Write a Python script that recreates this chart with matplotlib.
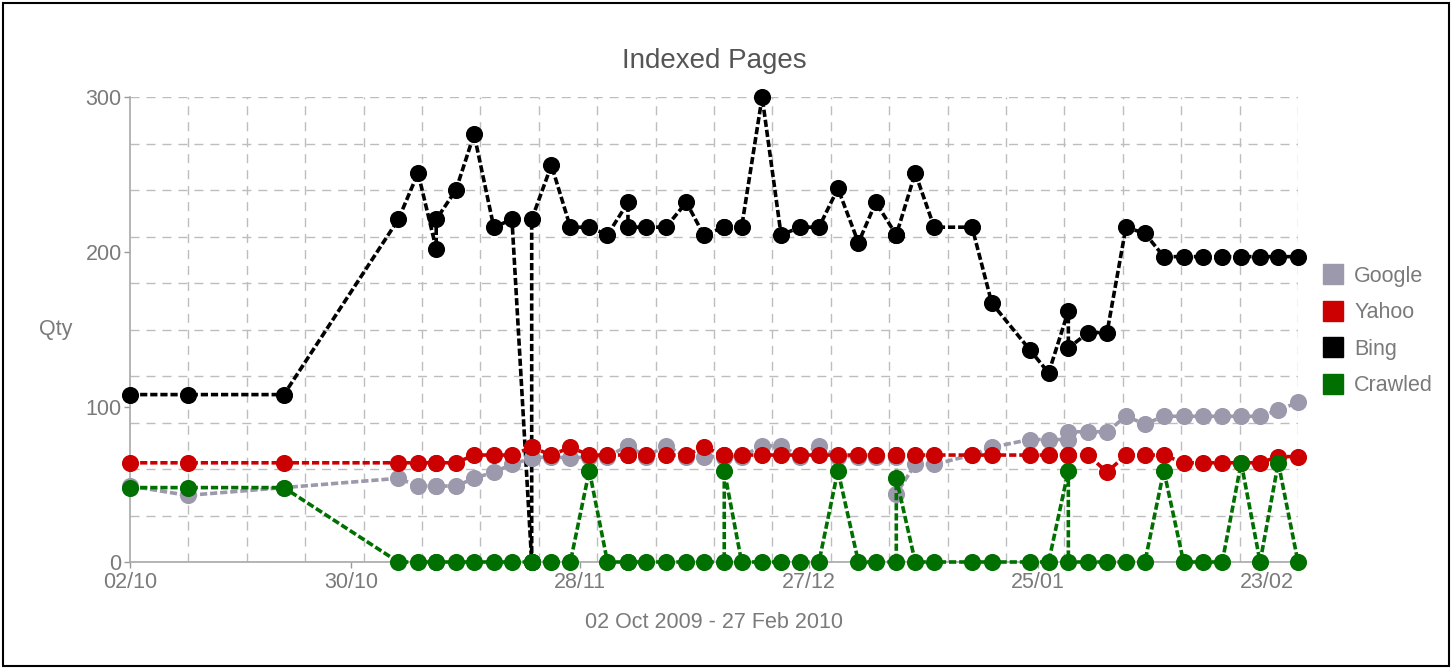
import matplotlib
matplotlib.use('Agg')
import matplotlib.pyplot as plt
from matplotlib.lines import Line2D
from matplotlib.patches import Rectangle
from matplotlib.ticker import FixedLocator, MultipleLocator

plt.rcParams['font.family'] = ['Liberation Sans', 'DejaVu Sans']

# x = days since 02 Oct 2009 (duplicates = two readings on the same date)
days = [0.0, 7.3, 19.5, 34.0, 36.5, 38.8, 38.8, 41.3, 43.6, 46.1,
        48.4, 50.9, 50.9, 53.4, 55.8, 58.2, 60.5, 63.1, 63.1, 65.4,
        67.9, 70.5, 72.7, 75.3, 75.3, 77.5, 80.1, 82.5, 84.9, 87.3,
        89.7, 92.3, 94.5, 97.1, 97.1, 99.5, 101.9, 106.7, 109.2, 114.0,
        116.4, 118.9, 118.9, 121.4, 123.8, 126.2, 128.6, 131.0, 133.5, 135.9,
        138.4, 140.8, 143.2, 145.5, 148.0]

google = [49, 43, 48, 54, 49, 49, 49, 49, 54, 58,
          63, 67, 67, 68, 67, 68, 68, 75, 75, 68,
          75, 68, 68, 68, 68, 68, 75, 75, 68, 75,
          68, 68, 68, 68, 44, 63, 63, 69, 74, 79,
          79, 79, 84, 84, 84, 94, 89, 94, 94, 94,
          94, 94, 94, 98, 103]

yahoo = [64, 64, 64, 64, 64, 64, 64, 64, 69, 69,
         69, 74, 74, 69, 74, 69, 69, 69, 69, 69,
         69, 69, 74, 69, 69, 69, 69, 69, 69, 69,
         69, 69, 69, 69, 69, 69, 69, 69, 69, 69,
         69, 69, 69, 69, 58, 69, 69, 69, 64, 64,
         64, 64, 64, 68, 68]

bing = [108, 108, 108, 221, 251, 202, 221, 240, 276, 216,
        221, 0, 221, 256, 216, 216, 211, 232, 216, 216,
        216, 232, 211, 216, 216, 216, 300, 211, 216, 216,
        241, 206, 232, 211, 211, 251, 216, 216, 167, 137,
        122, 162, 138, 148, 148, 216, 212, 197, 197, 197,
        197, 197, 197, 197, 197]

crawled = [48, 48, 48, 0, 0, 0, 0, 0, 0, 0,
           0, 0, 0, 0, 0, 59, 0, 0, 0, 0,
           0, 0, 0, 0, 59, 0, 0, 0, 0, 0,
           59, 0, 0, 0, 54, 0, 0, 0, 0, 0,
           0, 59, 0, 0, 0, 0, 0, 59, 0, 0,
           0, 64, 0, 64, 0]

x_ticks = [0, 28, 57, 86, 115, 144]
x_labels = ['02/10', '30/10', '28/11', '27/12', '25/01', '23/02']
y_ticks = [0, 100, 200, 300]

series_names = ['Google', 'Yahoo', 'Bing', 'Crawled']
series_colors = ['#9b99ab', '#cc0000', '#000000', '#007000']

W, H = 1455, 669
fig = plt.figure(figsize=(W / 100, H / 100), dpi=100)
ax = fig.add_axes([130 / W, 1 - 562 / H, 1168 / W, 465 / H])

data = {'Google': google, 'Yahoo': yahoo, 'Bing': bing, 'Crawled': crawled}
zorders = {'Bing': 3, 'Google': 4, 'Yahoo': 5, 'Crawled': 6}
for name in ['Bing', 'Google', 'Yahoo', 'Crawled']:
    c = series_colors[series_names.index(name)]
    ax.plot(days, data[name], color=c, lw=2.6, ls=(0, (2.0, 0.8)),
            marker='o', ms=11.3, mfc=c, mec=c, clip_on=False,
            zorder=zorders[name])

ax.set_xlim(0, 148)
ax.set_ylim(0, 300)
ax.set_xticks(x_ticks)
ax.set_xticklabels(x_labels)
ax.set_yticks(y_ticks)

ax.xaxis.set_minor_locator(FixedLocator([148 / 20 * k for k in range(1, 21)]))
ax.yaxis.set_minor_locator(MultipleLocator(30))
ax.xaxis.remove_overlapping_locs = False
ax.yaxis.remove_overlapping_locs = False
ax.grid(False, which='major')
ax.grid(True, which='minor', color='#bdbdbd', lw=1.0, ls=(0, (6.5, 5)))
ax.set_axisbelow(True)

ax.tick_params(axis='both', which='major', length=4, width=1, color='#999999',
               labelsize=15.5, labelcolor='#7a7a7a')
ax.tick_params(axis='x', which='major', pad=3.5)
ax.tick_params(axis='y', which='major', pad=2)
ax.tick_params(axis='both', which='minor', length=0)

for s in ['top', 'right']:
    ax.spines[s].set_visible(False)
for s in ['left', 'bottom']:
    ax.spines[s].set_color('#a8a8a8')
    ax.spines[s].set_linewidth(1.2)

fig.text(714 / W, 1 - 68 / H, 'Indexed Pages', ha='center', va='baseline',
         fontsize=20, color='#555555')
fig.text(714 / W, 1 - 628 / H, '02 Oct 2009 - 27 Feb 2010', ha='center',
         va='baseline', fontsize=15.5, color='#7a7a7a')
fig.text(56 / W, 1 - 335 / H, 'Qty', ha='center', va='baseline',
         fontsize=15.5, color='#7a7a7a')

handles = [Line2D([], [], marker='s', ls='none', ms=15, mfc=c, mec=c)
           for c in series_colors]
fig.legend(handles, series_names, loc='center left',
           bbox_to_anchor=(1322 / W, 1 - 331 / H), frameon=False,
           fontsize=15.5, handlelength=1.0, handletextpad=0.5,
           labelspacing=0.72, borderpad=0, borderaxespad=0,
           labelcolor='#7a7a7a')

fig.add_artist(Rectangle((3 / W, 3 / H), 1446 / W, 663 / H,
                         transform=fig.transFigure, fill=False,
                         ec='black', lw=1.5))

fig.savefig('out.png', dpi=100)
